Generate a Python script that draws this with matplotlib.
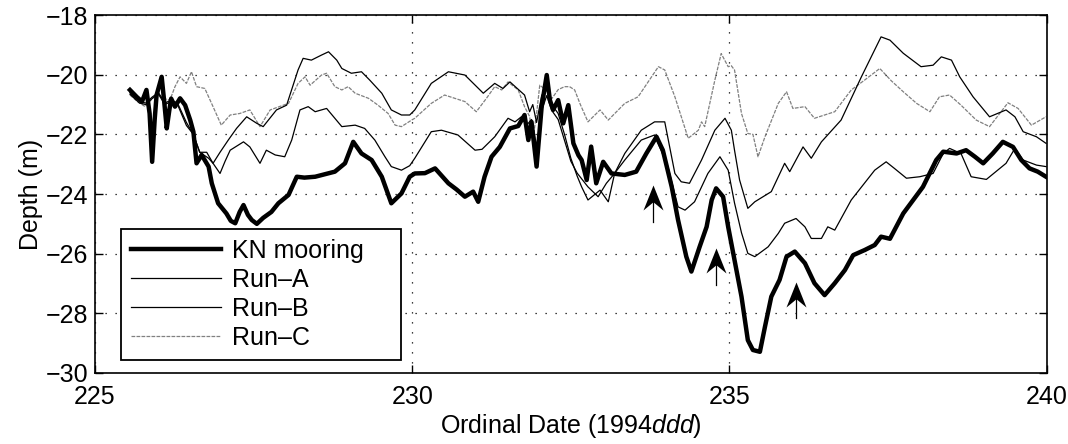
import matplotlib
matplotlib.use("Agg")
import matplotlib.pyplot as plt
from matplotlib.path import Path

plt.rcParams['font.family'] = ['Liberation Sans', 'DejaVu Sans']
plt.rcParams['mathtext.fontset'] = 'custom'
plt.rcParams['mathtext.it'] = 'Liberation Sans:italic'
plt.rcParams['mathtext.rm'] = 'Liberation Sans'

# KN mooring (thick line)
kn_x = [225.55, 225.66, 225.74, 225.81, 225.86, 225.90, 225.94, 225.97, 226.05, 226.09,
        226.13, 226.17, 226.20, 226.26, 226.34, 226.42, 226.50, 226.55, 226.60, 226.68,
        226.79, 226.84, 226.94, 227.07, 227.14, 227.21, 227.28, 227.34, 227.41, 227.47,
        227.55, 227.65, 227.78, 227.89, 228.05, 228.18, 228.30, 228.47, 228.60, 228.78,
        228.94, 229.07, 229.20, 229.36, 229.52, 229.67, 229.83, 229.96, 230.04, 230.20,
        230.36, 230.57, 230.70, 230.83, 230.96, 231.04, 231.14, 231.25, 231.38, 231.54,
        231.67, 231.77, 231.83, 231.88, 231.96, 232.04, 232.12, 232.17, 232.22, 232.30,
        232.38, 232.46, 232.54, 232.62, 232.67, 232.75, 232.82, 232.90, 233.01, 233.14,
        233.35, 233.53, 233.69, 233.85, 233.95, 234.09, 234.19, 234.32, 234.40, 234.53,
        234.64, 234.72, 234.79, 234.90, 234.98, 235.06, 235.19, 235.29, 235.37, 235.48,
        235.56, 235.66, 235.79, 235.90, 236.03, 236.19, 236.34, 236.50, 236.66, 236.82,
        236.95, 237.13, 237.29, 237.39, 237.53, 237.74, 238.05, 238.26, 238.37, 238.58,
        238.73, 238.87, 239.00, 239.15, 239.31, 239.47, 239.60, 239.73, 239.86, 239.99]
kn_y = [-20.51, -20.75, -20.90, -20.51, -21.30, -22.92, -21.50, -20.68, -20.07, -20.90,
        -21.80, -21.20, -20.80, -21.07, -20.79, -21.02, -21.52, -21.91, -22.97, -22.69,
        -23.08, -23.64, -24.31, -24.65, -24.90, -24.98, -24.60, -24.37, -24.70, -24.87,
        -25.00, -24.80, -24.60, -24.31, -24.03, -23.42, -23.45, -23.42, -23.35, -23.25,
        -22.97, -22.25, -22.64, -22.86, -23.42, -24.31, -23.98, -23.42, -23.31, -23.30,
        -23.14, -23.64, -23.85, -24.09, -23.92, -24.26, -23.42, -22.75, -22.42, -21.80,
        -21.72, -21.35, -22.19, -21.58, -23.08, -21.07, -20.01, -20.85, -21.18, -20.85,
        -21.63, -21.02, -22.30, -22.70, -22.86, -23.53, -22.41, -23.64, -22.92, -23.31,
        -23.36, -23.25, -22.64, -22.08, -22.53, -23.76, -24.87, -26.10, -26.60, -25.77,
        -25.10, -24.20, -23.81, -24.09, -25.10, -25.99, -27.44, -28.90, -29.23, -29.29,
        -28.45, -27.44, -26.88, -26.10, -25.93, -26.32, -26.99, -27.39, -26.99, -26.55,
        -26.05, -25.88, -25.71, -25.43, -25.50, -24.65, -23.76, -22.86, -22.58, -22.64,
        -22.53, -22.75, -22.97, -22.64, -22.25, -22.42, -22.86, -23.14, -23.25, -23.42]

# Run-A
runa_x = [225.55, 225.70, 225.80, 225.90, 226.00, 226.10, 226.20, 226.30, 226.44, 226.55,
          226.65, 226.79, 226.86, 226.97, 227.10, 227.23, 227.39, 227.55, 227.65, 227.86,
          228.02, 228.20, 228.28, 228.41, 228.57, 228.68, 228.81, 228.89, 229.04, 229.20,
          229.33, 229.52, 229.67, 229.83, 229.96, 230.04, 230.30, 230.57, 230.83, 231.12,
          231.30, 231.43, 231.54, 231.77, 231.85, 231.90, 231.96, 232.04, 232.12, 232.20,
          232.30, 232.40, 232.50, 232.60, 232.67, 232.77, 232.96, 233.09, 233.19, 233.35,
          233.61, 233.82, 233.98, 234.14, 234.24, 234.37, 234.56, 234.77, 234.93, 235.03,
          235.08, 235.16, 235.29, 235.40, 235.66, 235.87, 235.95, 236.16, 236.29, 236.45,
          236.76, 237.08, 237.39, 237.53, 237.74, 238.02, 238.21, 238.34, 238.50, 238.63,
          238.84, 239.10, 239.36, 239.50, 239.63, 239.84, 239.99]
runa_y = [-20.60, -20.90, -20.95, -20.75, -20.60, -20.95, -20.85, -20.95, -21.60, -22.00,
          -22.60, -22.80, -22.97, -22.60, -22.19, -21.80, -21.41, -21.63, -21.74, -21.18,
          -21.02, -19.84, -19.45, -19.51, -19.34, -19.23, -19.51, -19.79, -19.95, -19.90,
          -20.18, -20.62, -21.18, -21.35, -21.35, -21.18, -20.29, -19.90, -20.01, -20.62,
          -20.29, -20.46, -20.24, -20.68, -21.24, -21.00, -21.60, -20.70, -20.40, -21.00,
          -21.30, -22.00, -22.80, -23.40, -23.76, -24.20, -23.87, -24.26, -23.31, -22.64,
          -21.86, -21.58, -21.58, -23.31, -23.59, -23.64, -22.86, -21.86, -21.46, -21.86,
          -22.53, -23.53, -24.48, -24.26, -23.92, -22.97, -23.25, -22.42, -22.80, -22.25,
          -21.52, -20.07, -18.73, -18.84, -19.28, -19.73, -19.68, -19.40, -19.51, -20.07,
          -20.74, -21.41, -21.18, -21.41, -21.91, -22.08, -22.30]

# Run-B
runb_x = [225.55, 225.70, 225.80, 225.90, 226.00, 226.10, 226.20, 226.30, 226.44, 226.55,
          226.65, 226.76, 226.86, 226.97, 227.05, 227.13, 227.34, 227.44, 227.60, 227.70,
          227.84, 227.99, 228.10, 228.23, 228.36, 228.47, 228.65, 228.78, 228.89, 229.10,
          229.25, 229.41, 229.57, 229.67, 229.83, 229.96, 230.04, 230.30, 230.46, 230.72,
          230.99, 231.10, 231.30, 231.51, 231.62, 231.72, 231.80, 231.88, 231.96, 232.04,
          232.12, 232.20, 232.30, 232.40, 232.50, 232.60, 232.77, 232.93, 233.06, 233.17,
          233.35, 233.61, 233.82, 234.03, 234.19, 234.30, 234.45, 234.66, 234.85, 234.98,
          235.08, 235.19, 235.29, 235.40, 235.61, 235.77, 235.87, 236.05, 236.19, 236.29,
          236.45, 236.55, 236.66, 236.92, 237.29, 237.47, 237.60, 237.79, 238.00, 238.21,
          238.37, 238.47, 238.65, 238.81, 239.05, 239.36, 239.50, 239.63, 239.84, 239.99]
runb_y = [-20.65, -20.95, -21.00, -20.80, -20.65, -21.00, -20.90, -21.00, -21.70, -22.00,
          -22.60, -22.60, -22.97, -23.31, -22.90, -22.53, -22.25, -22.42, -22.97, -22.53,
          -22.69, -22.75, -22.19, -21.18, -21.07, -21.24, -21.13, -21.46, -21.74, -21.69,
          -21.80, -22.19, -22.75, -23.08, -23.20, -23.05, -22.80, -21.91, -21.86, -22.02,
          -22.53, -22.50, -22.08, -21.46, -21.58, -21.41, -21.70, -21.50, -22.40, -21.20,
          -20.70, -21.20, -21.50, -22.20, -22.90, -23.30, -23.76, -24.09, -23.64, -23.36,
          -22.86, -22.19, -22.02, -23.08, -24.43, -24.54, -24.26, -23.31, -22.75, -23.20,
          -24.30, -25.30, -25.99, -26.10, -25.77, -25.32, -24.98, -24.82, -25.10, -25.49,
          -25.49, -25.10, -25.21, -24.20, -23.20, -22.92, -23.14, -23.47, -23.42, -23.31,
          -22.64, -22.47, -22.64, -23.42, -23.51, -22.97, -22.47, -22.86, -23.03, -23.08]

# Run-C
runc_x = [225.55, 225.67, 225.79, 225.90, 225.97, 226.08, 226.18, 226.26, 226.34, 226.44,
          226.52, 226.60, 226.73, 226.86, 226.99, 227.13, 227.28, 227.44, 227.60, 227.76,
          227.97, 228.05, 228.20, 228.31, 228.39, 228.57, 228.65, 228.78, 228.89, 228.99,
          229.10, 229.31, 229.46, 229.62, 229.73, 229.83, 229.99, 230.04, 230.30, 230.51,
          230.83, 231.01, 231.17, 231.30, 231.41, 231.51, 231.67, 231.77, 231.85, 231.90,
          231.96, 232.01, 232.10, 232.20, 232.30, 232.40, 232.48, 232.56, 232.65, 232.77,
          232.96, 233.09, 233.35, 233.56, 233.88, 233.98, 234.14, 234.35, 234.51, 234.56,
          234.61, 234.77, 234.87, 234.98, 235.03, 235.08, 235.19, 235.29, 235.37, 235.45,
          235.56, 235.77, 235.90, 236.00, 236.19, 236.34, 236.66, 236.92, 237.13, 237.37,
          237.55, 237.74, 237.95, 238.16, 238.31, 238.47, 238.65, 238.89, 239.10, 239.26,
          239.39, 239.55, 239.76, 239.99]
runc_y = [-20.68, -20.90, -21.07, -20.80, -20.62, -20.80, -20.85, -20.40, -20.07, -20.29,
          -19.90, -20.40, -20.46, -21.07, -21.69, -21.35, -21.30, -21.18, -21.74, -21.18,
          -21.02, -20.96, -20.29, -20.07, -20.35, -20.01, -19.95, -20.40, -20.51, -20.40,
          -20.62, -20.79, -21.02, -21.30, -21.69, -21.74, -21.52, -21.46, -20.96, -20.68,
          -20.90, -21.24, -20.79, -20.40, -20.51, -20.24, -20.51, -21.07, -21.40, -22.20,
          -21.30, -20.35, -20.50, -20.80, -20.50, -20.40, -20.40, -20.51, -21.00, -21.58,
          -21.18, -21.52, -20.96, -20.74, -19.73, -19.84, -20.74, -22.13, -21.86, -21.58,
          -21.74, -20.18, -19.29, -19.73, -19.70, -19.84, -21.30, -21.97, -22.00, -22.75,
          -22.08, -20.96, -20.57, -21.13, -21.07, -21.46, -21.24, -20.51, -20.18, -19.79,
          -20.20, -20.57, -20.96, -21.24, -20.74, -20.68, -21.02, -21.52, -21.74, -21.30,
          -20.94, -21.13, -21.69, -21.41]

# arrows marking the features
arrow_x = [233.80, 234.79, 236.05]
arrow_tip = [-23.70, -25.82, -26.94]
arrow_tail = [-24.93, -27.05, -28.17]


def main():
    fig = plt.figure(figsize=(10.68, 4.44), dpi=100)
    ax = fig.add_axes([0.089, 0.160, 0.891, 0.806])

    ax.plot(runc_x, runc_y, color='0.5', lw=0.9, ls=(0, (3, 1)), label='Run\u2013C')
    ax.plot(runb_x, runb_y, color='k', lw=0.9, label='Run\u2013B')
    ax.plot(runa_x, runa_y, color='k', lw=0.9, label='Run\u2013A')
    ax.plot(kn_x, kn_y, color='k', lw=3.2, label='KN mooring')

    #arrowhead shaped like the barbed one in the figure, tip at origin
    head = Path([(0, 0), (0.4, -1.0), (0, -0.67), (-0.4, -1.0), (0, 0)],
                [Path.MOVETO, Path.LINETO, Path.LINETO, Path.LINETO, Path.CLOSEPOLY])
    for x, tip, tail in zip(arrow_x, arrow_tip, arrow_tail):
        ax.plot([x, x], [tail, tip - 0.3], color='k', lw=0.9)
        ax.plot([x], [tip], marker=head, markersize=36, color='k', mew=0)

    ax.set_xlim(225, 240)
    ax.set_ylim(-30, -18)
    ax.set_xticks([225, 230, 235, 240])
    ax.set_yticks([-30, -28, -26, -24, -22, -20, -18])
    ax.tick_params(direction='in', top=True, right=True, length=6, width=1,
                   labelsize=18)
    ax.tick_params(axis='x', pad=9)
    ax.tick_params(axis='y', pad=5)
    ax.grid(True, color='k', ls=(0, (1, 7)), lw=0.9)
    ax.set_axisbelow(True)
    for s in ax.spines.values():
        s.set_linewidth(1.2)

    ax.set_xlabel(r'Ordinal Date (1994$\it{ddd}$)', fontsize=18, labelpad=2)
    ax.set_ylabel('Depth (m)', fontsize=18, labelpad=2)

    h, l = ax.get_legend_handles_labels()
    order = [3, 2, 1, 0]
    leg = ax.legend([h[i] for i in order], [l[i] for i in order],
                    loc='lower left', bbox_to_anchor=(0.027, 0.036, 0.295, 0.372),
                    mode='expand', fontsize=18, frameon=True, fancybox=False,
                    framealpha=1, edgecolor='k', handlelength=3.6,
                    handletextpad=0.45, labelspacing=0.2, borderpad=0.4,
                    borderaxespad=0)
    leg.get_frame().set_linewidth(1.3)

    fig.savefig('out.png', dpi=100)


if __name__ == "__main__":
    main()
